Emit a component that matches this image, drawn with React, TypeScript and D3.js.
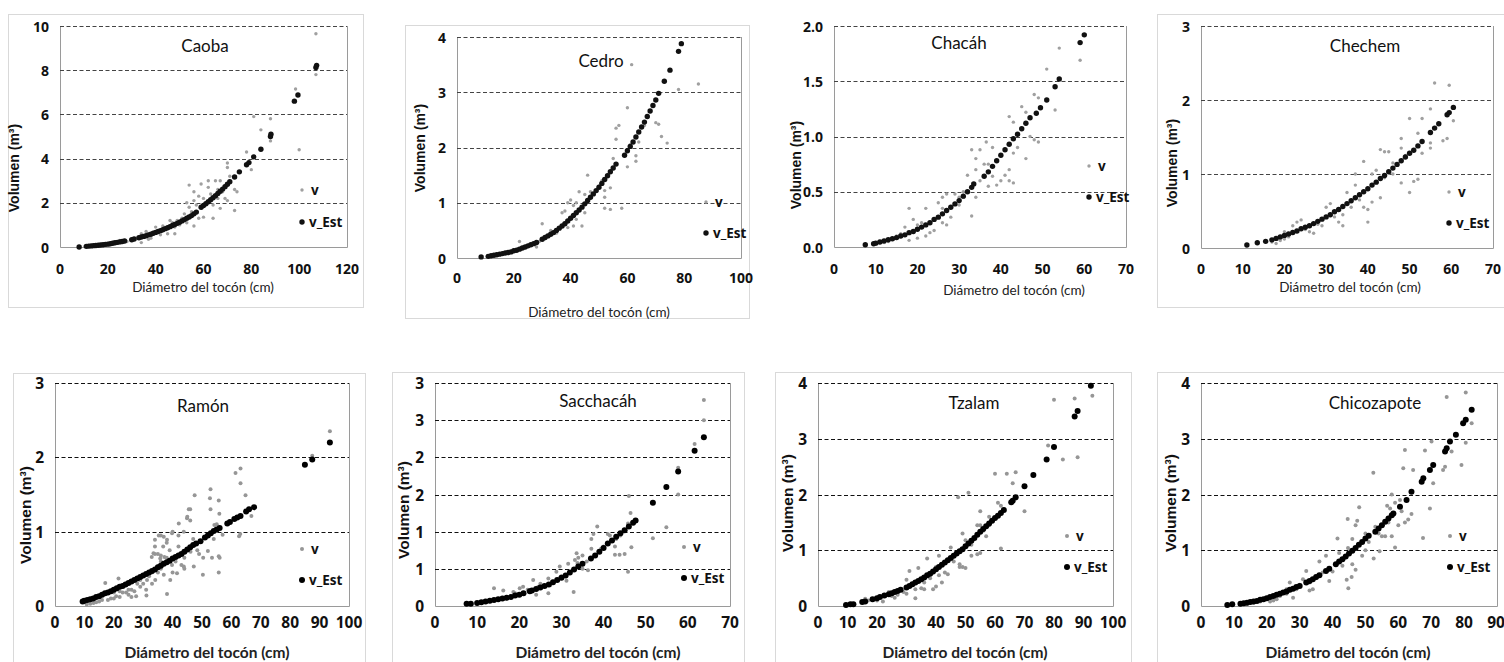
import React from "react";
import * as d3 from "d3";

type Pt = [number, number];

// ---------- DATA ----------
const caobaV: Pt[] = [[107,9.65],[107,7.8],[98.5,7.15],[100,4.4],[88,5.8],[84,5.3],[81,5.9],[88,4.8],[80,3.5],[78,4.3],[70,3.8],[70,3.6],[73,2.6],[74,2.5],[73,1.65],[70,2.1],[67,1.75],[64,1.3],[60,1.35],[59,2.85],[58,1.3],[56,0.95],[54,2.8],[56,2.5],[62,3.0],[65,3.0],[66,2.6],[66,2.2],[63,2.4],[60,2.2],[68,2.5],[53,2.0],[54,1.8],[55,1.6],[52,1.5],[51,1.3],[50,1.0],[48,0.9],[48,0.6],[46,1.2],[45,0.6],[44,0.8],[42,0.55],[40,0.9],[38,0.4],[36,0.7],[34,0.2],[34,0.6],[30,0.3],[28,0.25],[25,0.3],[22,0.2],[20,0.15],[15,0.05],[12,0.02],[56,2.1],[57,1.9],[62,2.7],[64,1.9],[69,2.2],[67,3.0],[71,3.2],[58,2.3],[53,1.1],[49,1.2],[55,1.4],[43,0.95],[47,1.1],[39,0.6],[37,0.35]];
const caobaEst: Pt[] = [[8,0.0],[11,0.03],[12,0.04],[13,0.05],[14,0.06],[15,0.07],[16,0.08],[17,0.09],[18,0.1],[19,0.12],[20,0.13],[21,0.15],[22,0.17],[23,0.19],[24,0.21],[25,0.23],[26,0.25],[27,0.27],[30,0.33],[31,0.36],[33,0.42],[34,0.45],[35,0.48],[36,0.51],[37,0.55],[38,0.58],[39,0.62],[40,0.66],[41,0.7],[42,0.74],[43,0.78],[44,0.83],[45,0.87],[46,0.92],[47,0.97],[48,1.02],[49,1.07],[50,1.12],[51,1.18],[52,1.24],[53,1.3],[54,1.36],[55,1.42],[56,1.5],[57,1.58],[59,1.8],[60,1.88],[61,1.96],[62,2.05],[63,2.14],[64,2.23],[65,2.32],[66,2.42],[67,2.52],[68,2.62],[69,2.73],[70,2.84],[71,2.95],[73,3.17],[75,3.4],[78,3.72],[79,3.82],[81,4.08],[84,4.42],[88,5.0],[88.2,5.1],[98,6.6],[99.5,6.88],[107,8.12],[107.3,8.22]];

const cedroV: Pt[] = [[61.5,3.5],[78,3.05],[85,3.15],[60,2.72],[56,2.35],[57,2.4],[56,2.15],[70,2.45],[71,2.42],[72,2.2],[74,2.08],[63,1.85],[63,1.75],[60,1.65],[64,2.1],[55,1.8],[54,1.27],[52,1.1],[52,0.9],[54,0.88],[58,0.9],[52,1.22],[51,1.4],[46,1.5],[45,1.15],[45,0.82],[44,0.58],[43,1.2],[42,1.0],[41,0.95],[40,1.05],[39,1.0],[38,0.85],[37,0.82],[39,0.55],[41,0.58],[42,0.7],[30,0.62],[28,0.2],[29,0.3],[31,0.35],[32,0.4],[22,0.3],[25,0.22],[47,1.2],[48,1.15],[50,1.3],[33,0.5],[35,0.45],[61,2.05],[68,2.65],[66,2.4]];
const cedroEst: Pt[] = [[8.5,0.02],[11,0.03],[12,0.04],[13,0.05],[14,0.06],[15,0.07],[16,0.08],[17,0.09],[18,0.1],[19,0.11],[20,0.13],[21,0.14],[22,0.16],[23,0.18],[24,0.2],[25,0.22],[26,0.24],[27,0.26],[28,0.28],[30,0.34],[31,0.37],[32,0.4],[33,0.43],[34,0.46],[35,0.5],[36,0.54],[37,0.58],[38,0.62],[39,0.67],[40,0.72],[41,0.77],[42,0.82],[43,0.87],[44,0.92],[45,0.98],[46,1.04],[47,1.1],[48,1.16],[49,1.22],[50,1.28],[51,1.35],[52,1.42],[53,1.49],[54,1.56],[55,1.63],[56,1.7],[59,1.86],[60,1.94],[61,2.02],[62,2.1],[63,2.19],[64,2.28],[65,2.37],[66,2.46],[67,2.56],[68,2.66],[69,2.76],[70,2.86],[71,2.98],[73,3.2],[75,3.4],[78,3.74],[79,3.88]];

const chacahV: Pt[] = [[54,1.8],[59,1.69],[51,1.61],[53,1.24],[48,1.38],[49,1.35],[45,1.27],[46,1.22],[42,1.18],[43,1.13],[47,1.0],[48,0.97],[49,0.95],[46,0.8],[44,0.9],[43,0.85],[42,0.7],[41,0.65],[42,0.6],[43,0.58],[40,0.6],[39,0.56],[38,0.64],[37,0.55],[36,0.75],[36.5,0.95],[38,0.9],[35,0.88],[34,0.8],[34,0.7],[33,0.88],[32,0.65],[34,0.45],[33,0.28],[31,0.45],[30,0.38],[29,0.48],[27,0.48],[26,0.45],[25,0.4],[26,0.35],[27,0.2],[24,0.25],[22,0.35],[21,0.22],[20,0.2],[18,0.35],[19,0.25],[17,0.18],[16,0.12],[15,0.1],[14,0.08],[13,0.05],[12,0.04],[23,0.13],[24,0.15],[26,0.22],[28,0.27],[22,0.1],[20,0.08],[18,0.06],[30,0.45],[31,0.5],[35,0.6],[37,0.75]];
const chacahEst: Pt[] = [[7.5,0.02],[9.5,0.03],[10,0.035],[11,0.045],[12,0.055],[13,0.065],[14,0.075],[15,0.085],[16,0.1],[17,0.11],[18,0.13],[19,0.14],[20,0.16],[21,0.18],[22,0.2],[23,0.22],[24,0.25],[25,0.27],[26,0.3],[27,0.33],[28,0.36],[29,0.39],[30,0.42],[31,0.46],[32,0.5],[33,0.54],[33.5,0.57],[36,0.64],[37,0.68],[38,0.73],[39,0.78],[40,0.83],[41,0.88],[42,0.93],[43,0.98],[44,1.02],[45,1.07],[46,1.12],[47,1.17],[48.5,1.21],[49.5,1.26],[51,1.33],[53,1.45],[54,1.52],[59,1.85],[60,1.92]];

const chechemV: Pt[] = [[56,2.23],[59.5,2.2],[60.5,1.72],[58,1.45],[59,1.48],[55,1.88],[55,1.35],[55,1.42],[53,1.75],[53,1.28],[52,1.55],[50,1.75],[51,0.9],[52,0.93],[50,0.75],[48,1.48],[48,1.35],[48,0.88],[46,1.15],[45,1.3],[44,1.3],[43,1.33],[43,0.68],[42,1.05],[41,1.0],[41,0.62],[40,0.52],[40,0.35],[39,0.55],[39,1.17],[37,1.0],[37,0.85],[36,0.62],[35,0.75],[34,0.45],[34,0.3],[33,0.35],[31,0.6],[30,0.55],[29,0.3],[28,0.32],[27,0.2],[25,0.25],[24,0.38],[23,0.35],[22,0.3],[21,0.15],[20,0.22],[20,0.12],[19,0.1],[18,0.06],[17,0.08],[26,0.22],[32,0.42],[38,0.65],[44,0.95],[46,1.0],[49,1.25],[36,0.55]];
const chechemEst: Pt[] = [[11,0.04],[13.5,0.07],[15.5,0.09],[17,0.11],[18,0.13],[19,0.15],[20,0.17],[21,0.19],[22,0.21],[23,0.23],[24,0.26],[25,0.28],[26,0.3],[27,0.33],[28,0.36],[29,0.39],[30,0.42],[31,0.45],[32,0.49],[33,0.52],[34,0.56],[35,0.6],[36,0.64],[37,0.68],[38,0.72],[39,0.76],[40,0.8],[41,0.85],[42,0.89],[43,0.94],[44,0.98],[45,1.03],[46,1.08],[47,1.13],[48,1.18],[49,1.23],[50,1.28],[51,1.32],[52,1.38],[53,1.44],[55,1.56],[56,1.62],[57,1.68],[59,1.8],[59.5,1.83],[60.5,1.9]];

const ramonV: Pt[] = [[93.5,2.35],[87.5,2.02],[63.1,1.85],[61.4,1.79],[63.1,1.65],[64.8,1.49],[66.8,1.21],[63,0.97],[62.6,0.94],[52.9,1.57],[52.7,1.45],[52.9,1.3],[55.7,1.42],[55.9,1.24],[54.2,1.09],[55.7,0.67],[56,0.65],[53.4,0.65],[52,0.74],[50.4,0.65],[50.3,0.42],[55.7,0.45],[47.5,1.49],[45.5,1.3],[46,1.3],[44.9,1.18],[46,1.15],[42.1,1.11],[43.8,1.0],[39.8,0.98],[38.1,0.89],[35.3,0.95],[34,0.89],[36.8,0.8],[33.5,0.71],[32.9,0.66],[35.8,0.64],[37.2,0.66],[39.8,0.55],[41.5,0.44],[38.1,0.16],[31.1,0.14],[29,0.26],[26,0.22],[21.6,0.37],[17.1,0.31],[20.8,0.13],[24.2,0.18],[27.6,0.13],[31.3,0.35],[35.3,0.54],[34.1,0.35],[39.2,0.35],[43.8,0.53],[47.2,0.53],[46.1,0.73],[48.4,0.75],[54,0.9],[13.1,0.04],[10.8,0.02],[12,0.03],[14,0.05],[15,0.06],[16,0.08],[18,0.08],[19,0.1],[20,0.1],[22,0.12],[23,0.18],[25,0.15],[27,0.2],[28,0.3],[30,0.3],[31,0.22],[33,0.3],[34,0.7],[36,0.68],[35,0.45],[36,0.5],[37,0.42],[38,0.65],[39,0.75],[40,0.45],[41,0.6],[43,0.55],[44,0.65],[36,0.6],[35,0.7],[37,0.93],[38,0.85],[42,0.8],[42,0.95],[44,0.5],[40,1.0],[45,1.2],[26,0.12],[24,0.3],[29,0.35],[32,0.4],[33,0.45],[22,0.2],[20,0.18],[25,0.22],[34,0.8],[36,0.95],[49,0.7],[47,0.9],[57,0.96],[55,1.1]];
const ramonEst: Pt[] = [[9.4,0.06],[10,0.07],[11,0.08],[12,0.09],[13,0.1],[14,0.12],[15,0.13],[16,0.15],[17,0.17],[18,0.18],[19,0.2],[20,0.22],[21,0.24],[22,0.26],[23,0.27],[24,0.29],[25,0.31],[26,0.33],[27,0.35],[28,0.37],[29,0.39],[30,0.41],[31,0.43],[32,0.45],[33,0.47],[34,0.49],[35,0.52],[36,0.54],[37,0.57],[38,0.59],[39,0.61],[40,0.64],[41,0.66],[42,0.68],[43,0.7],[44,0.73],[45,0.76],[46,0.79],[47,0.82],[48,0.84],[49.5,0.87],[51,0.92],[52,0.95],[53,0.98],[54,1.01],[55,1.03],[56,1.05],[58.6,1.11],[59.5,1.13],[61,1.17],[62,1.19],[63.1,1.21],[65,1.27],[66,1.3],[67.7,1.33],[85,1.9],[87.5,1.97],[93.5,2.2]];

const sacchacahV: Pt[] = [[63.8,2.77],[63.8,2.5],[61.6,2.18],[57.7,1.86],[57.7,1.5],[54.9,1.06],[51.7,0.91],[46,1.48],[46.4,1.25],[45.8,1.11],[46.6,0.79],[45.8,0.46],[45,0.7],[43.8,0.69],[42.7,0.69],[41.5,0.95],[41,0.97],[42.7,0.8],[38.5,1.07],[37.6,0.97],[37.1,0.9],[37.1,0.77],[36.3,0.48],[33.6,0.71],[33.2,0.62],[33.8,0.58],[31.6,0.57],[31.2,0.34],[32.9,0.19],[29.6,0.53],[28.8,0.46],[26.9,0.37],[26.9,0.17],[24.5,0.26],[23.3,0.35],[22.9,0.2],[20.9,0.26],[20.1,0.24],[18.6,0.19],[16.2,0.21],[14,0.24],[17,0.1],[15,0.08],[24,0.15],[27.3,0.28],[35,0.5],[39.4,0.77],[34,0.65],[32,0.45],[30,0.4],[28,0.33],[25,0.3],[22,0.22],[19,0.17],[13,0.07],[40,0.8],[44,0.95],[43,0.9],[36,0.6],[35,0.68]];
const sacchacahEst: Pt[] = [[7.5,0.03],[8.5,0.03],[10,0.04],[11,0.05],[12,0.06],[13,0.07],[14,0.08],[15,0.09],[16,0.1],[17,0.11],[18,0.12],[19,0.14],[20,0.15],[21,0.17],[22.5,0.2],[23,0.21],[24,0.23],[25,0.25],[26,0.27],[27,0.29],[28,0.32],[29,0.35],[30,0.38],[31,0.41],[32,0.45],[33,0.49],[34,0.53],[35,0.57],[37,0.64],[38,0.68],[39,0.73],[40,0.78],[41,0.84],[42,0.88],[43,0.93],[44,0.98],[45,1.02],[46,1.07],[47,1.12],[47.6,1.15],[51.7,1.39],[54.9,1.6],[57.7,1.81],[61.6,2.09],[63.8,2.27]];

const tzalamV: Pt[] = [[93,3.77],[87,3.72],[80,3.7],[88,2.67],[78,2.88],[83,2.63],[70,1.7],[67,2.4],[64,2.37],[60,2.37],[66,2.2],[61,1.85],[62,1.8],[62,1.03],[58,1.6],[55,1.7],[55,1.45],[54,1.45],[56,1.35],[55,0.95],[54,0.93],[52,0.9],[51,2.03],[47.5,1.95],[49,1.3],[50,1.18],[49,0.7],[50,0.68],[48,0.7],[48,0.75],[45,1.05],[44,0.57],[42,0.42],[41,0.9],[40,0.7],[39,0.6],[40,0.35],[39,0.3],[37,0.85],[36,0.3],[35,0.32],[34,0.68],[33,0.14],[33,0.3],[31,0.63],[30,0.47],[30,0.22],[29,0.25],[27,0.2],[26,0.15],[25,0.18],[24,0.25],[22,0.08],[20,0.1],[17,0.1],[16,0.13],[38,0.5],[43,0.6],[46,0.8],[52,1.1],[57,1.25],[41,0.55],[36,0.42],[58,1.45]];
const tzalamEst: Pt[] = [[9.5,0.02],[11,0.03],[12,0.03],[15,0.07],[16,0.08],[18.5,0.12],[20,0.14],[21,0.16],[22.5,0.19],[24,0.21],[25,0.23],[26,0.25],[27,0.27],[28,0.29],[30,0.33],[31,0.36],[32,0.39],[33,0.42],[34,0.45],[35,0.48],[36,0.51],[37,0.55],[38,0.58],[39,0.62],[40,0.66],[41,0.7],[42,0.74],[43,0.78],[44,0.82],[45,0.86],[46,0.9],[47,0.94],[48,0.98],[49,1.02],[50,1.07],[51,1.12],[52,1.17],[53,1.22],[54,1.28],[55,1.33],[56,1.38],[57,1.43],[58,1.48],[59,1.53],[60,1.58],[61,1.62],[62,1.67],[63,1.72],[65.5,1.86],[66,1.89],[67,1.95],[70,2.15],[73,2.35],[77.5,2.63],[80,2.85],[87,3.4],[88,3.5],[92.5,3.95]];

const chicoV: Pt[] = [[82.3,3.28],[80.5,3.83],[74.7,3.75],[70.1,2.95],[80.5,2.93],[62,2.8],[68.1,2.79],[76.2,2.77],[61.5,2.47],[64.5,2.44],[74.2,2.5],[73.6,2.44],[79.2,2.53],[70.6,2.2],[69.6,1.75],[67.5,1.22],[62,1.5],[63,1.55],[60.5,1.9],[59,1.85],[58,2.0],[57.5,1.75],[56.6,1.8],[57,1.5],[58,1.25],[59,1.05],[60,1.45],[55,1.25],[54,1.3],[53,1.42],[52.4,2.39],[52.5,0.85],[54.3,0.98],[50,1.3],[50,1.0],[48.1,1.77],[47.5,1.53],[47,1.45],[46,1.2],[44.6,1.56],[44.7,1.04],[45,0.95],[46,0.75],[47,0.65],[44.3,0.47],[44.8,0.32],[45.8,0.52],[43,0.72],[42,0.95],[41.5,1.21],[40,0.62],[39,0.45],[38,0.9],[36,0.8],[35,0.5],[34,0.3],[33,0.42],[32,0.63],[31,0.48],[30,0.38],[29,0.3],[28,0.15],[27,0.42],[26,0.3],[25,0.25],[24,0.18],[23,0.12],[22,0.1],[21,0.08],[20,0.12],[18,0.08],[16,0.06],[14,0.04],[12,0.02],[48,1.1],[49,0.9],[51,1.15],[56,1.25],[61,1.7],[64,1.65],[43,0.85],[37,0.6],[33,0.28],[26,0.22]];
const chicoEst: Pt[] = [[8,0.02],[9.5,0.03],[12,0.04],[13,0.05],[14,0.06],[15,0.07],[16,0.08],[17,0.09],[18,0.11],[19,0.12],[20,0.14],[21,0.16],[22,0.18],[23,0.2],[24,0.22],[25,0.24],[26,0.26],[27,0.29],[28,0.31],[29,0.34],[30,0.36],[32,0.42],[33,0.45],[34,0.48],[35,0.52],[36,0.55],[38,0.63],[39,0.67],[41,0.75],[42,0.8],[43,0.84],[44,0.89],[45,0.94],[46,0.99],[47,1.04],[48,1.1],[49,1.15],[50,1.21],[51,1.26],[53,1.33],[54,1.39],[55,1.45],[56,1.51],[57,1.57],[58,1.63],[58.5,1.66],[60.5,1.78],[62.5,1.9],[64,2.05],[67.1,2.23],[67.6,2.29],[69.6,2.44],[70.6,2.53],[74.2,2.77],[74.7,2.83],[75.7,2.95],[77.5,3.07],[79.7,3.28],[80.5,3.34],[82.3,3.52]];

// tick values / labels
const ticks0to120 = [0, 20, 40, 60, 80, 100, 120];
const ticks0to100by20 = [0, 20, 40, 60, 80, 100];
const ticks0to70 = [0, 10, 20, 30, 40, 50, 60, 70];
const ticks0to100 = [0, 10, 20, 30, 40, 50, 60, 70, 80, 90, 100];
const ticks0to90 = [0, 10, 20, 30, 40, 50, 60, 70, 80, 90];
const yCaoba = [0, 2, 4, 6, 8, 10];
const yCedro = [0, 1, 2, 3, 4];
const yChacah = [0, 0.5, 1, 1.5, 2];
const yChacahLabels = ["0.0", "0.5", "1.0", "1.5", "2.0"];
const y0to3 = [0, 1, 2, 3];
const y0to4 = [0, 1, 2, 3, 4];
const ySacchacah = [0, 0.5, 1, 1.5, 2, 2.5, 3];
const ySacchacahLabels = ["0", "1", "1", "2", "2", "3", "3"];

const titles = ["Caoba", "Cedro", "Chacáh", "Chechem", "Ramón", "Sacchacáh", "Tzalam", "Chicozapote"];

// ---------- LAYOUT ----------
type Layout = {
  frame: [number, number, number, number] | null;
  plot: [number, number, number, number];
  title: [number, number];
  legend: [number, number, number];
  xTitle: [number, number];
  yTitle: [number, number];
  xTickY: number;
  top: boolean;
};

const layouts: Layout[] = [
  { frame: [8, 14, 363, 307], plot: [60, 26, 347, 247], title: [205, 45], legend: [302, 190, 222], xTitle: [203, 287], yTitle: [14, 168], xTickY: 268, top: true },
  { frame: [405, 25, 749, 318], plot: [457, 37, 741, 258], title: [601, 60], legend: [706, 202, 233], xTitle: [599, 312], yTitle: [420, 148], xTickY: 277, top: true },
  { frame: null, plot: [834, 26, 1126, 247], title: [959, 42], legend: [1089, 166, 197], xTitle: [1014, 290], yTitle: [796, 165], xTickY: 268, top: true },
  { frame: [1157, 14, 1512, 307], plot: [1201, 26, 1493, 248], title: [1365, 45], legend: [1449, 192, 223], xTitle: [1350, 287], yTitle: [1172, 163], xTickY: 268, top: true },
  { frame: [13, 373, 365, 672], plot: [55, 383, 349, 606], title: [203, 405], legend: [302, 549, 580], xTitle: [207, 652], yTitle: [25, 515], xTickY: 622, top: false },
  { frame: [392, 372, 744, 672], plot: [435, 383, 730, 606], title: [598, 400], legend: [684, 547, 578], xTitle: [598, 652], yTitle: [403, 510], xTickY: 622, top: false },
  { frame: [775, 372, 1131, 672], plot: [818, 383, 1113, 606], title: [974, 402], legend: [1067, 536, 567], xTitle: [965, 652], yTitle: [787, 503], xTickY: 622, top: false },
  { frame: [1157, 372, 1512, 672], plot: [1201, 383, 1497, 606], title: [1375, 402], legend: [1450, 536, 567], xTitle: [1348, 652], yTitle: [1170, 503], xTickY: 622, top: false },
];

const panelData = [
  { v: caobaV, est: caobaEst, xt: ticks0to120, yt: yCaoba, yl: null as string[] | null },
  { v: cedroV, est: cedroEst, xt: ticks0to100by20, yt: yCedro, yl: null },
  { v: chacahV, est: chacahEst, xt: ticks0to70, yt: yChacah, yl: yChacahLabels },
  { v: chechemV, est: chechemEst, xt: ticks0to70, yt: y0to3, yl: null },
  { v: ramonV, est: ramonEst, xt: ticks0to100, yt: y0to3, yl: null },
  { v: sacchacahV, est: sacchacahEst, xt: ticks0to70, yt: ySacchacah, yl: ySacchacahLabels },
  { v: tzalamV, est: tzalamEst, xt: ticks0to100, yt: y0to4, yl: null },
  { v: chicoV, est: chicoEst, xt: ticks0to90, yt: y0to4, yl: null },
];

const SANS = "Lato, 'Open Sans', sans-serif";
const BOLD = "'Open Sans', 'Noto Sans', sans-serif";
const NARROW = "'Liberation Sans Narrow', 'Open Sans', sans-serif";
const ARIAL = "'Liberation Sans', Arial, sans-serif";

function Panel({ idx }: { idx: number }) {
  const L = layouts[idx];
  const D = panelData[idx];
  const [l, t, r, b] = L.plot;
  const xs = d3.scaleLinear().domain([0, D.xt[D.xt.length - 1]]).range([l, r]);
  const ys = d3.scaleLinear().domain([0, D.yt[D.yt.length - 1]]).range([b, t]);
  const grid = L.top ? "#444" : "#111";
  const gray = L.top ? "#a0a0a0" : "#969696";
  const black = L.top ? "#111" : "#000";
  const rv = L.top ? 1.7 : 2.0;
  const re = L.top ? 2.7 : 3.0;
  const tickSize = L.top ? 14 : 15.5;
  const lastX = D.xt[D.xt.length - 1];
  return (
    <g>
      {L.frame && (
        <rect x={L.frame[0] + 0.5} y={L.frame[1] + 0.5} width={L.frame[2] - L.frame[0]} height={L.frame[3] - L.frame[1]} fill="#fff" stroke="#d9d9d9" strokeWidth={1} />
      )}
      <path d={`M${l + 0.5},${t}V${b + 0.5}H${r + 0.5}V${t}`} fill="none" stroke="#9a9a9a" strokeWidth={1} />
      {D.yt.filter((v) => v > 0).map((v, i) => (
        <line key={"g" + i} x1={l} x2={r} y1={Math.round(ys(v)) + 0.5} y2={Math.round(ys(v)) + 0.5} stroke={grid} strokeWidth={1} strokeDasharray="4,2.5" />
      ))}
      {D.yt.map((v, i) => (
        <text key={"yt" + i} x={l - 11} y={ys(v)} textAnchor="end" dominantBaseline="central" fontFamily={NARROW} fontWeight={700} fontSize={tickSize} fill="#111">
          {D.yl ? D.yl[i] : String(v)}
        </text>
      ))}
      {D.xt.map((v, i) => (
        <text key={"xt" + i} x={Math.min(xs(v), 1496)} y={L.xTickY} textAnchor="middle" dominantBaseline="central" fontFamily={NARROW} fontWeight={700} fontSize={tickSize} fill="#111">
          {v}
        </text>
      ))}
      {D.v.map((p, i) => (
        <circle key={"v" + i} cx={xs(p[0])} cy={ys(p[1])} r={rv} fill={gray} />
      ))}
      {D.est.map((p, i) => (
        <circle key={"e" + i} cx={xs(p[0])} cy={ys(p[1])} r={re} fill={black} />
      ))}
      <text x={L.title[0]} y={L.title[1]} textAnchor="middle" dominantBaseline="central" fontFamily={SANS} fontSize={17} fill="#111">
        {titles[idx]}
      </text>
      <circle cx={L.legend[0]} cy={L.legend[1]} r={rv} fill={gray} />
      <text x={L.legend[0] + 9} y={L.legend[1]} dominantBaseline="central" fontFamily={BOLD} fontWeight={700} fontSize={13.5} fill="#111">v</text>
      <circle cx={L.legend[0]} cy={L.legend[2]} r={re} fill={black} />
      <text x={L.legend[0] + 7} y={L.legend[2]} dominantBaseline="central" fontFamily={BOLD} fontWeight={700} fontSize={13.5} fill="#111">v_Est</text>
      <text x={L.xTitle[0]} y={L.xTitle[1]} textAnchor="middle" dominantBaseline="central" fontFamily={SANS} fontWeight={L.top ? 400 : 700} fontSize={L.top ? 13.5 : 15.5} fill="#222">
        Diámetro del tocón (cm)
      </text>
      <text transform={`translate(${L.yTitle[0]},${L.yTitle[1]}) rotate(-90)`} textAnchor="middle" dominantBaseline="central" fontFamily={ARIAL} fontWeight={700} fontSize={L.top ? 14 : 15.5} fill="#111">
        Volumen (m³)
      </text>
      {lastX < 0 && null}
    </g>
  );
}

export default function App() {
  return (
    <svg width={1504} height={662} style={{ position: "absolute", left: 0, top: 0, background: "#fff" }}>
      <rect x={0} y={0} width={1504} height={662} fill="#fff" />
      {layouts.map((_, i) => (
        <Panel key={i} idx={i} />
      ))}
    </svg>
  );
}
